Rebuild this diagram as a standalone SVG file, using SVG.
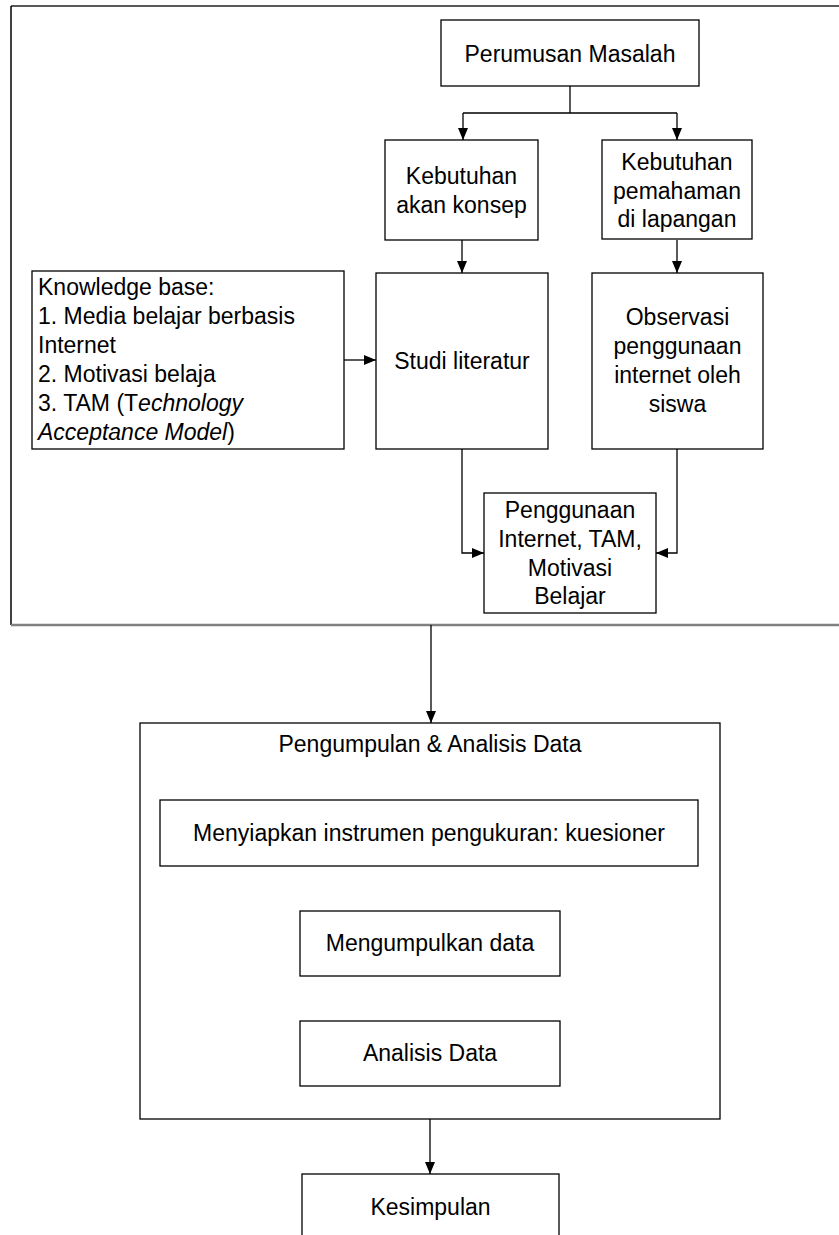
<svg xmlns="http://www.w3.org/2000/svg" width="839" height="1235" viewBox="0 0 839 1235">
<style>
.box{fill:#fff;stroke:#000;stroke-width:1.3}
.t{font-family:"Liberation Sans",Arial,sans-serif;font-size:23px;fill:#000;text-anchor:middle}
.tl{font-family:"Liberation Sans",Arial,sans-serif;font-size:23px;fill:#000}
.c{fill:none;stroke:#000;stroke-width:1.3}
</style>
<defs>
<marker id="ah" viewBox="0 0 12 10" refX="12" refY="5" markerWidth="12" markerHeight="10" markerUnits="userSpaceOnUse" orient="auto">
<path d="M0,0 L12,5 L0,10 Z" fill="#000"/>
</marker>
</defs>
<rect width="839" height="1235" fill="#fff"/>
<g id="frame-top">
<line x1="11" y1="6" x2="839" y2="6" stroke="#222" stroke-width="1.5"/>
<line x1="11" y1="6" x2="11" y2="625" stroke="#000" stroke-width="1.5"/>
<line x1="11" y1="625" x2="839" y2="625" stroke="#808080" stroke-width="2.5"/>
</g>
<g id="connectors">
<path class="c" d="M570,86 V113 M463,113 H677"/>
<path class="c" d="M463,113 V140" marker-end="url(#ah)"/>
<path class="c" d="M677,113 V140" marker-end="url(#ah)"/>
<path class="c" d="M462,240 V273" marker-end="url(#ah)"/>
<path class="c" d="M677,240 V273" marker-end="url(#ah)"/>
<path class="c" d="M344,360 H376" marker-end="url(#ah)"/>
<path class="c" d="M462,449 V553 H484" marker-end="url(#ah)"/>
<path class="c" d="M677,449 V553 H656" marker-end="url(#ah)"/>
<path class="c" d="M431,625 V723" marker-end="url(#ah)"/>
<path class="c" d="M430,866 V911" marker-end="url(#ah)"/>
<path class="c" d="M430,976 V1021" marker-end="url(#ah)"/>
<path class="c" d="M430,1119 V1174" marker-end="url(#ah)"/>
</g>
<g id="perumusan">
<rect class="box" x="441" y="20" width="258" height="66"/>
<text class="t" x="570" y="62">Perumusan Masalah</text>
</g>
<g id="kebutuhan-konsep">
<rect class="box" x="385" y="140" width="153" height="100"/>
<text class="t" x="461.5" y="184">Kebutuhan</text>
<text class="t" x="461.5" y="213">akan konsep</text>
</g>
<g id="kebutuhan-pemahaman">
<rect class="box" x="602" y="140" width="150" height="99"/>
<text class="t" x="677" y="170">Kebutuhan</text>
<text class="t" x="677" y="198.5">pemahaman</text>
<text class="t" x="677" y="227">di lapangan</text>
</g>
<g id="knowledge">
<rect class="box" x="32" y="271" width="312" height="178"/>
<text class="tl" x="38" y="295">Knowledge base:</text>
<text class="tl" x="38" y="324">1. Media belajar berbasis</text>
<text class="tl" x="38" y="353">Internet</text>
<text class="tl" x="38" y="382">2. Motivasi belaja</text>
<text class="tl" x="38" y="411">3. TAM (T<tspan font-style="italic">echnology</tspan></text>
<text class="tl" x="38" y="440"><tspan font-style="italic">Acceptance Model</tspan>)</text>
</g>
<g id="studi">
<rect class="box" x="376" y="273" width="172" height="176"/>
<text class="t" x="462" y="369">Studi literatur</text>
</g>
<g id="observasi">
<rect class="box" x="592" y="273" width="171" height="176"/>
<text class="t" x="677.5" y="325">Observasi</text>
<text class="t" x="677.5" y="354">penggunaan</text>
<text class="t" x="677.5" y="383">internet oleh</text>
<text class="t" x="677.5" y="412">siswa</text>
</g>
<g id="penggunaan">
<rect class="box" x="484" y="493" width="172" height="120"/>
<text class="t" x="570" y="517.5">Penggunaan</text>
<text class="t" x="570" y="546.5">Internet, TAM,</text>
<text class="t" x="570" y="575.5">Motivasi</text>
<text class="t" x="570" y="604">Belajar</text>
</g>
<g id="pengumpulan">
<rect class="box" x="140" y="723" width="580" height="396"/>
<text class="t" x="430" y="752">Pengumpulan &amp; Analisis Data</text>
</g>
<g id="menyiapkan">
<rect class="box" x="160" y="800" width="538" height="66" stroke="#444"/>
<text class="t" x="429" y="841">Menyiapkan instrumen pengukuran: kuesioner</text>
</g>
<g id="mengumpulkan">
<rect class="box" x="300" y="911" width="260" height="65"/>
<text class="t" x="430" y="951">Mengumpulkan data</text>
</g>
<g id="analisis">
<rect class="box" x="300" y="1021" width="260" height="65"/>
<text class="t" x="430" y="1061">Analisis Data</text>
</g>
<g id="kesimpulan">
<rect class="box" x="302" y="1174" width="257" height="80"/>
<text class="t" x="430.5" y="1215">Kesimpulan</text>
</g>
</svg>
